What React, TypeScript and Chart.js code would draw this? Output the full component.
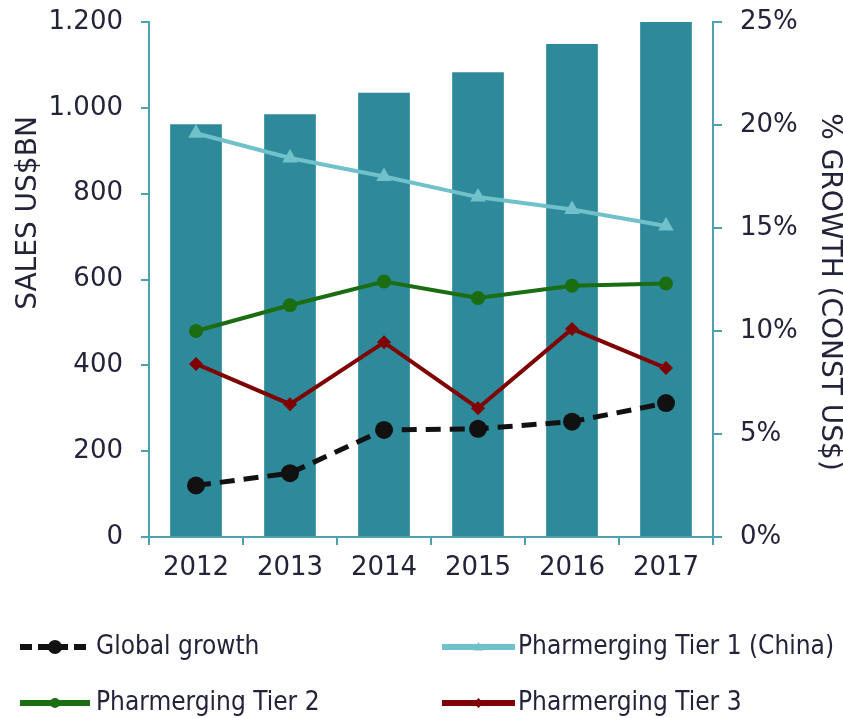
import React, { useEffect, useRef } from "react";
import { Chart, registerables } from "chart.js";

Chart.register(...registerables);

const years = ["2012", "2013", "2014", "2015", "2016", "2017"];
const salesBn = [962, 985, 1035, 1083, 1149, 1200];
const globalGrowth = [2.5, 3.1, 5.2, 5.25, 5.6, 6.5];
const tier1China = [19.6, 18.4, 17.5, 16.5, 15.9, 15.1];
const tier2 = [10.0, 11.25, 12.4, 11.6, 12.2, 12.3];
const tier3 = [8.4, 6.45, 9.45, 6.25, 10.1, 8.2];
const leftTicks = [0, 200, 400, 600, 800, 1000, 1200];
const rightTicks = [0, 5, 10, 15, 20, 25];
const leftTitle = "SALES US$BN";
const rightTitle = "% GROWTH (CONST US$)";
const seriesNames = [
  "Global growth",
  "Pharmerging Tier 1 (China)",
  "Pharmerging Tier 2",
  "Pharmerging Tier 3",
];

const TEAL = "#2e8a9a";
const AXIS = "#4ea2ae";
const TEXT = "#23233a";
const FONT = "'DejaVu Sans', Verdana, sans-serif";

const fmtThousands = (v: number) =>
  String(v).replace(/\B(?=(\d{3})+(?!\d))/g, ".");

const overlayPlugin = {
  id: "overlay",
  afterDraw(chart: any) {
    const ctx = chart.ctx as CanvasRenderingContext2D;
    // Axis titles
    ctx.save();
    ctx.fillStyle = TEXT;
    ctx.font = `28px ${FONT}`;
    ctx.textAlign = "center";
    ctx.textBaseline = "middle";
    ctx.translate(29, 213);
    ctx.rotate(-Math.PI / 2);
    ctx.fillText(leftTitle, 0, 0);
    ctx.restore();

    ctx.save();
    ctx.fillStyle = TEXT;
    ctx.font = `28px ${FONT}`;
    ctx.textAlign = "center";
    ctx.textBaseline = "middle";
    ctx.translate(829, 292);
    ctx.rotate(Math.PI / 2);
    ctx.fillText(rightTitle, 0, 0);
    ctx.restore();

    // Legend
    const slots = [
      { x1: 20, x2: 90, tx: 96, y: 647 },
      { x1: 442, x2: 515, tx: 518, y: 647 },
      { x1: 20, x2: 90, tx: 96, y: 703 },
      { x1: 442, x2: 515, tx: 518, y: 703 },
    ];
    const lineSets = chart.data.datasets.filter((d: any) => d.type === "line");
    lineSets.forEach((ds: any, i: number) => {
      const s = slots[i];
      if (!s) return;
      ctx.save();
      ctx.strokeStyle = ds.borderColor;
      ctx.lineWidth = 6;
      ctx.lineCap = "butt";
      if (ds.borderDash && ds.borderDash.length) ctx.setLineDash([12, 6]);
      ctx.beginPath();
      ctx.moveTo(s.x1, s.y);
      ctx.lineTo(s.x2, s.y);
      ctx.stroke();
      ctx.setLineDash([]);
      const cx = (s.x1 + s.x2) / 2;
      ctx.fillStyle = ds.borderColor;
      ctx.beginPath();
      const r = ds.borderDash && ds.borderDash.length ? 7 : 5;
      if (ds.pointStyle === "triangle") {
        ctx.moveTo(cx, s.y - r);
        ctx.lineTo(cx + r, s.y + r * 0.7);
        ctx.lineTo(cx - r, s.y + r * 0.7);
        ctx.closePath();
      } else if (ds.pointStyle === "rectRot") {
        ctx.moveTo(cx, s.y - r);
        ctx.lineTo(cx + r, s.y);
        ctx.lineTo(cx, s.y + r);
        ctx.lineTo(cx - r, s.y);
        ctx.closePath();
      } else {
        ctx.arc(cx, s.y, r, 0, Math.PI * 2);
      }
      ctx.fill();
      ctx.fillStyle = TEXT;
      ctx.font = `26px 'DejaVu Sans Condensed', ${FONT}`;
      ctx.textAlign = "left";
      ctx.textBaseline = "middle";
      ctx.fillText(ds.label, s.tx, s.y);
      ctx.restore();
    });
  },
};

export default function App() {
  const ref = useRef<HTMLCanvasElement | null>(null);
  useEffect(() => {
    if (!ref.current) return;
    const gridCommon = {
      drawOnChartArea: false,
      drawTicks: true,
      color: AXIS,
      lineWidth: 2,
    };
    const noPad = (s: any) => {
      s.paddingTop = 0;
      s.paddingBottom = 0;
      s.paddingLeft = 0;
      s.paddingRight = 0;
    };
    const chart = new Chart(ref.current, {
      type: "bar",
      data: {
        labels: years,
        datasets: [
          {
            type: "line",
            label: seriesNames[0],
            data: globalGrowth,
            yAxisID: "y1",
            borderColor: "#111111",
            backgroundColor: "#111111",
            borderWidth: 5,
            borderDash: [15, 9],
            pointStyle: "circle",
            pointRadius: 9,
            pointBorderWidth: 0,
            order: 1,
          } as any,
          {
            type: "line",
            label: seriesNames[1],
            data: tier1China,
            yAxisID: "y1",
            borderColor: "#70c1c9",
            backgroundColor: "#70c1c9",
            borderWidth: 4,
            pointStyle: "triangle",
            pointRadius: 9,
            pointBorderWidth: 0,
            order: 2,
          },
          {
            type: "line",
            label: seriesNames[2],
            data: tier2,
            yAxisID: "y1",
            borderColor: "#1b6d12",
            backgroundColor: "#1b6d12",
            borderWidth: 4,
            pointStyle: "circle",
            pointRadius: 7,
            pointBorderWidth: 0,
            order: 3,
          },
          {
            type: "line",
            label: seriesNames[3],
            data: tier3,
            yAxisID: "y1",
            borderColor: "#7f0000",
            backgroundColor: "#7f0000",
            borderWidth: 4,
            pointStyle: "rectRot",
            pointRadius: 7,
            pointBorderWidth: 0,
            order: 4,
          },
          {
            type: "bar",
            label: "Sales",
            data: salesBn,
            yAxisID: "y",
            backgroundColor: TEAL,
            barPercentage: 0.55,
            categoryPercentage: 1.0,
            order: 10,
          },
        ],
      },
      options: {
        animation: false,
        responsive: true,
        maintainAspectRatio: false,
        layout: { padding: { left: 0, right: 0, top: 22, bottom: 131 } },
        plugins: {
          legend: { display: false },
          tooltip: { enabled: false },
        },
        scales: {
          x: {
            offset: true,
            grid: { ...gridCommon, offset: true, tickLength: 8 },
            border: { display: true, color: AXIS, width: 2 },
            ticks: {
              color: TEXT,
              font: { family: FONT, size: 26 },
              padding: 8,
              autoSkip: false,
              maxRotation: 0,
            },
            afterFit: (s: any) => {
              s.height = 50;
              noPad(s);
            },
          },
          y: {
            position: "left",
            min: leftTicks[0],
            max: leftTicks[leftTicks.length - 1],
            grid: { ...gridCommon, tickLength: 8 },
            border: { display: true, color: AXIS, width: 2 },
            afterBuildTicks: (s: any) => {
              s.ticks = leftTicks.map((v) => ({ value: v }));
            },
            ticks: {
              color: TEXT,
              font: { family: FONT, size: 26 },
              padding: 18,
              callback: (v: any) => fmtThousands(Number(v)),
            },
            afterFit: (s: any) => {
              s.width = 149;
              noPad(s);
            },
          },
          y1: {
            position: "right",
            min: rightTicks[0],
            max: rightTicks[rightTicks.length - 1],
            grid: { ...gridCommon, tickLength: 9 },
            border: { display: true, color: AXIS, width: 2 },
            afterBuildTicks: (s: any) => {
              s.ticks = rightTicks.map((v) => ({ value: v }));
            },
            ticks: {
              color: TEXT,
              font: { family: FONT, size: 26 },
              padding: 18,
              callback: (v: any) => `${v}%`,
            },
            afterFit: (s: any) => {
              s.width = 130;
              noPad(s);
            },
          },
        },
      },
      plugins: [overlayPlugin],
    } as any);
    return () => chart.destroy();
  }, []);

  return (
    <div
      style={{
        position: "absolute",
        left: 0,
        top: 0,
        width: 843,
        height: 718,
        background: "#ffffff",
      }}
    >
      <canvas ref={ref} />
    </div>
  );
}
